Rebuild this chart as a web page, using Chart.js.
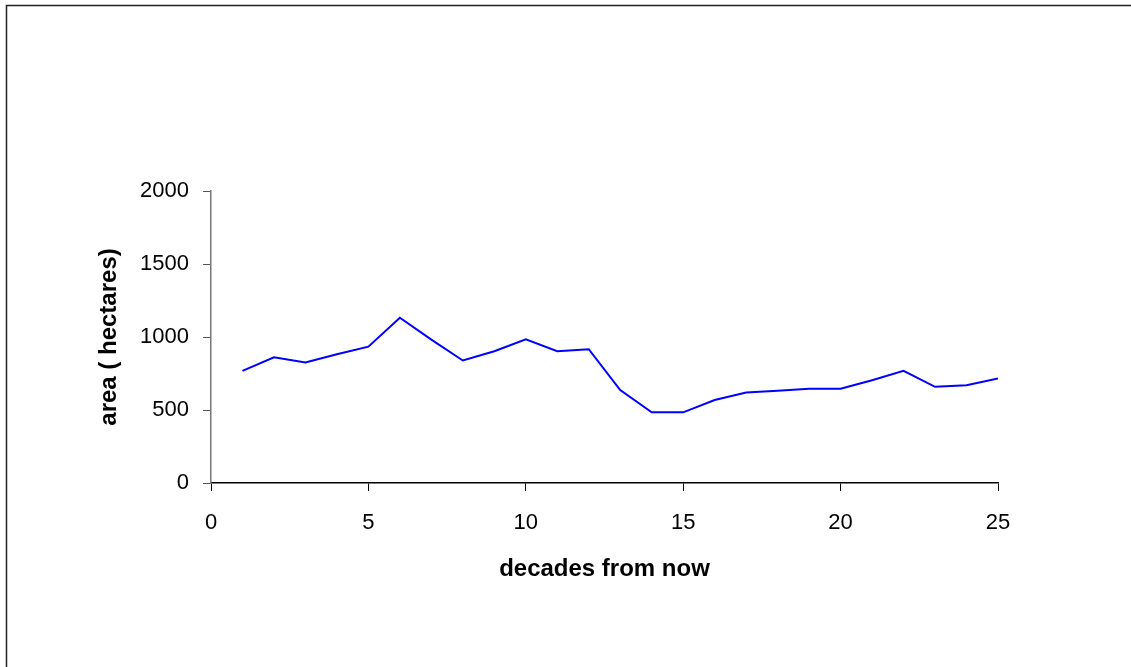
<!DOCTYPE html>
<html>
<head>
<meta charset="utf-8">
<script src="https://cdn.jsdelivr.net/npm/chart.js@4.4.1/dist/chart.umd.min.js"></script>
<style>
  html, body { margin: 0; padding: 0; background: #fff; }
  #wrap { width: 1131px; height: 667px; position: relative; }
</style>
</head>
<body>
<div id="wrap"><canvas id="areaChart" width="1131" height="667"></canvas></div>
<script>
// data
const decades = [1, 2, 3, 4, 5, 6, 7, 8, 9, 10, 11, 12, 13, 14, 15, 16, 17, 18, 19, 20, 21, 22, 23, 24, 25];
const areaHectares = [768, 861, 825, 882, 934, 1132, 982, 839, 902, 984, 902, 916, 636, 484, 484, 568, 620, 632, 645, 645, 704, 768, 659, 670, 716];
const xTicks = [0, 5, 10, 15, 20, 25];
const yTicks = [0, 500, 1000, 1500, 2000];

const FONT = "'Liberation Sans', Arial, sans-serif";

// outer frame like the original picture
const framePlugin = {
    id: "frame",
    beforeDraw(chart) {
        const ctx = chart.ctx;
        ctx.save();
        ctx.fillStyle = "#fff";
        ctx.fillRect(0, 0, chart.width, chart.height);
        ctx.strokeStyle = "#222";
        ctx.lineWidth = 1.5;
        ctx.strokeRect(6.5, 5.5, 1300, 1000);
        ctx.restore();
    }
};

const ctx = document.getElementById("areaChart").getContext("2d");

new Chart(ctx, {
    type: "line",
    data: {
        datasets: [{
            label: "area",
            data: decades.map((d, i) => ({ x: d, y: areaHectares[i] })),
            borderColor: "#0000ff",
            borderWidth: 2,
            pointRadius: 0,
            tension: 0,
            fill: false
        }]
    },
    options: {
        responsive: false,
        animation: false,
        devicePixelRatio: 1,
        layout: { padding: { left: 0, top: 191, right: 133, bottom: 0 } },
        plugins: {
            legend: { display: false },
            tooltip: { enabled: false }
        },
        scales: {
            x: {
                type: "linear",
                min: 0,
                max: 25,
                afterBuildTicks: (scale) => { scale.ticks = xTicks.map(v => ({ value: v })); },
                afterFit: (scale) => { scale.height = 667 - 483; },
                grid: { drawOnChartArea: false, drawTicks: true, tickLength: 8, color: "#000" },
                border: { color: "#000", width: 1.5 },
                ticks: {
                    color: "#000",
                    padding: 19,
                    font: { family: FONT, size: 22 },
                    callback: (value) => String(value)
                },
                title: {
                    display: true,
                    text: "decades from now",
                    color: "#000",
                    font: { family: FONT, size: 24, weight: "bold" },
                    padding: { top: 0, bottom: 83 }
                }
            },
            y: {
                min: 0,
                max: 2000,
                afterBuildTicks: (scale) => { scale.ticks = yTicks.map(v => ({ value: v })); },
                afterFit: (scale) => { scale.width = 211; },
                grid: { drawOnChartArea: false, drawTicks: true, tickLength: 8, color: "#555" },
                border: { color: "#777", width: 1.5 },
                ticks: {
                    color: "#000",
                    padding: 14,
                    font: { family: FONT, size: 22 },
                    callback: (value) => String(value)
                },
                title: {
                    display: true,
                    text: "area ( hectares)",
                    color: "#000",
                    font: { family: FONT, size: 24, weight: "bold" },
                    padding: { top: 95, bottom: 0 }
                }
            }
        }
    },
    plugins: [framePlugin]
});
</script>
</body>
</html>
